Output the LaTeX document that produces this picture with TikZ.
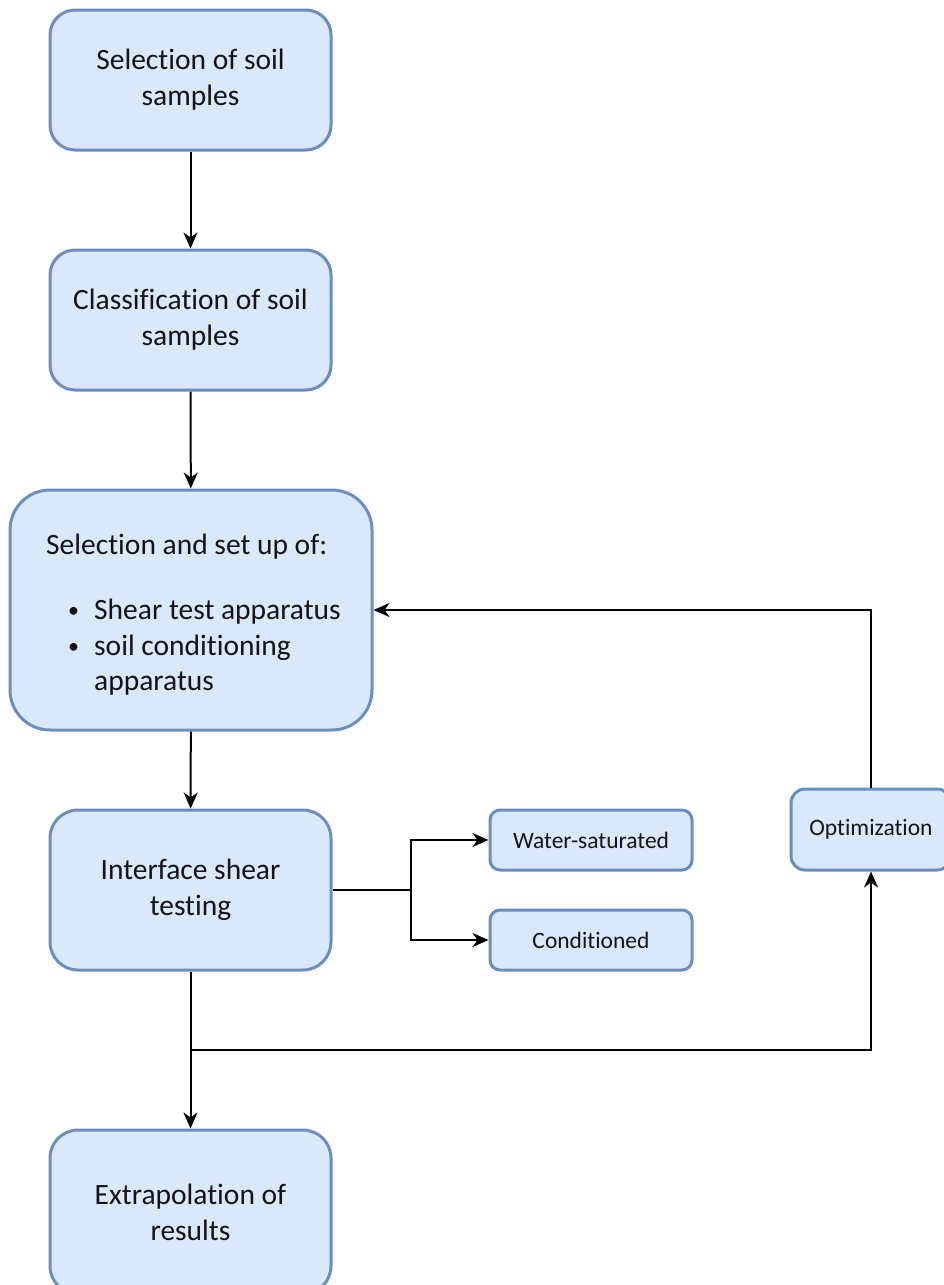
\documentclass[tikz,border=0pt]{standalone}
\usepackage{fontspec}
\setmainfont[Ligatures={NoCommon}]{Carlito}
\usetikzlibrary{arrows.meta}
\definecolor{boxfill}{HTML}{DAE8FC}
\definecolor{boxdraw}{HTML}{6C8EBF}
\definecolor{txt}{HTML}{141414}
\tikzset{
  box/.style={draw=boxdraw, fill=boxfill, line width=3pt, rectangle, inner sep=0pt, align=center, text=txt, font=\fontsize{29.5}{36}\selectfont},
  smallbox/.style={box, font=\fontsize{23.5}{28}\selectfont},
  plain/.style={inner sep=0pt, text=txt, font=\fontsize{29.5}{36}\selectfont, anchor=west},
  conn/.style={line width=2pt, draw=black, -{Stealth[length=16pt,width=14pt,inset=5pt]}},
  link/.style={line width=2pt, draw=black},
}
\begin{document}
\begin{tikzpicture}[x=1pt,y=-1pt]
\useasboundingbox (0,0) rectangle (943,1285);
\node[box, minimum width=281, minimum height=140, rounded corners=25pt] (b1) at (190.5,80) {Selection of soil\\samples};
\node[box, minimum width=281, minimum height=140, rounded corners=25pt] (b2) at (190.5,320) {Classification of soil\\samples};
\node[box, minimum width=362, minimum height=240, rounded corners=40pt] (b3) at (191,610) {};
\node[plain] (t3a) at (46,547) {Selection and set up of:};
\node[plain, font=\fontsize{22}{36}\selectfont] (bu1) at (68,612) {\textbullet};
\node[plain] (t3b) at (94,612) {Shear test apparatus};
\node[plain, font=\fontsize{22}{36}\selectfont] (bu2) at (68,648) {\textbullet};
\node[plain] (t3c) at (94,648) {soil conditioning};
\node[plain] (t3d) at (94,684) {apparatus};
\node[box, minimum width=281, minimum height=160, rounded corners=28pt] (b4) at (190.5,890) {Interface shear\\testing};
\node[box, minimum width=281, minimum height=164, rounded corners=28pt] (b5) at (190.5,1212) {Extrapolation of\\results};
\node[smallbox, minimum width=202, minimum height=60, rounded corners=10pt] (ws) at (591,840) {Water-saturated};
\node[smallbox, minimum width=202, minimum height=60, rounded corners=10pt] (cd) at (591,940) {Conditioned};
\node[smallbox, minimum width=160, minimum height=81, rounded corners=14pt] (op) at (871,829.5) {Optimization};
\coordinate (split) at (411,890);
\coordinate (bj) at (190.5,1050);
\draw[conn] (b1) -- (b2);
\draw[conn] (b2) -- (b3);
\draw[conn] (b3) -- (b4);
\draw[link] (b4.east) -- (split);
\draw[conn] (split) |- (ws.west);
\draw[conn] (split) |- (cd.west);
\draw[conn] (b4.south) -- (b5.north);
\draw[conn] (bj) -| (op.south);
\draw[conn] (op.north) |- (b3.east);
\end{tikzpicture}
\end{document}
